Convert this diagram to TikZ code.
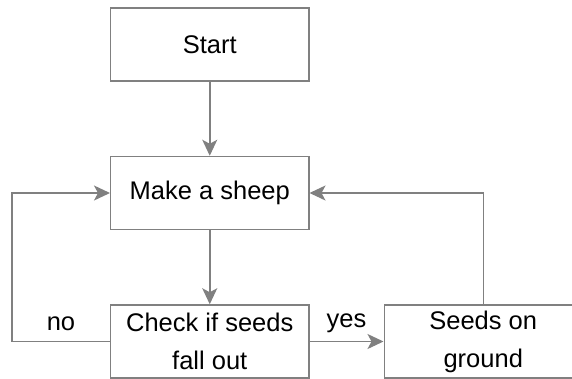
\documentclass[tikz,border=0pt]{standalone}
\usepackage{fontspec}
\setmainfont{Liberation Sans}
\usetikzlibrary{positioning,arrows.meta}
\definecolor{linegray}{RGB}{128,128,128}

\begin{document}
\begin{tikzpicture}[
    auto,
    node distance=74pt,
    font=\fontsize{25.5}{38}\selectfont,
    box/.style={ draw=linegray,
      line width=1.5pt,
      anchor=center,
      align=center,
      minimum height=73pt,
      minimum width=198pt},
    flow/.style={-{Stealth[length=16pt,width=15pt,inset=4pt]},
      draw=linegray, line width=1.5pt},
    tag/.style={inner sep=10pt}]
    \useasboundingbox (-209.75pt,44.5pt) rectangle (362.25pt,-333.5pt);
    \node[box] (Start) {Start};
    \node[box, below=of Start] (Make) {Make a sheep};
    \node[box, below=of Make] (Check) {Check if seeds\\fall out};
    \node[box, right=of Check] (Seeds) {Seeds on\\ground};

    \draw[flow] (Start) to (Make);
    \draw[flow] (Make) to (Check);
    \draw[flow] (Check) to node[tag, inner sep=8pt] {yes} (Seeds);
    \draw[flow] (Check.west) -- ++(-98pt,0) node[midway, swap, tag] {no} |- (Make.west);
    \draw[flow] (Seeds.north) |- (Make.east);
\end{tikzpicture}
\end{document}
